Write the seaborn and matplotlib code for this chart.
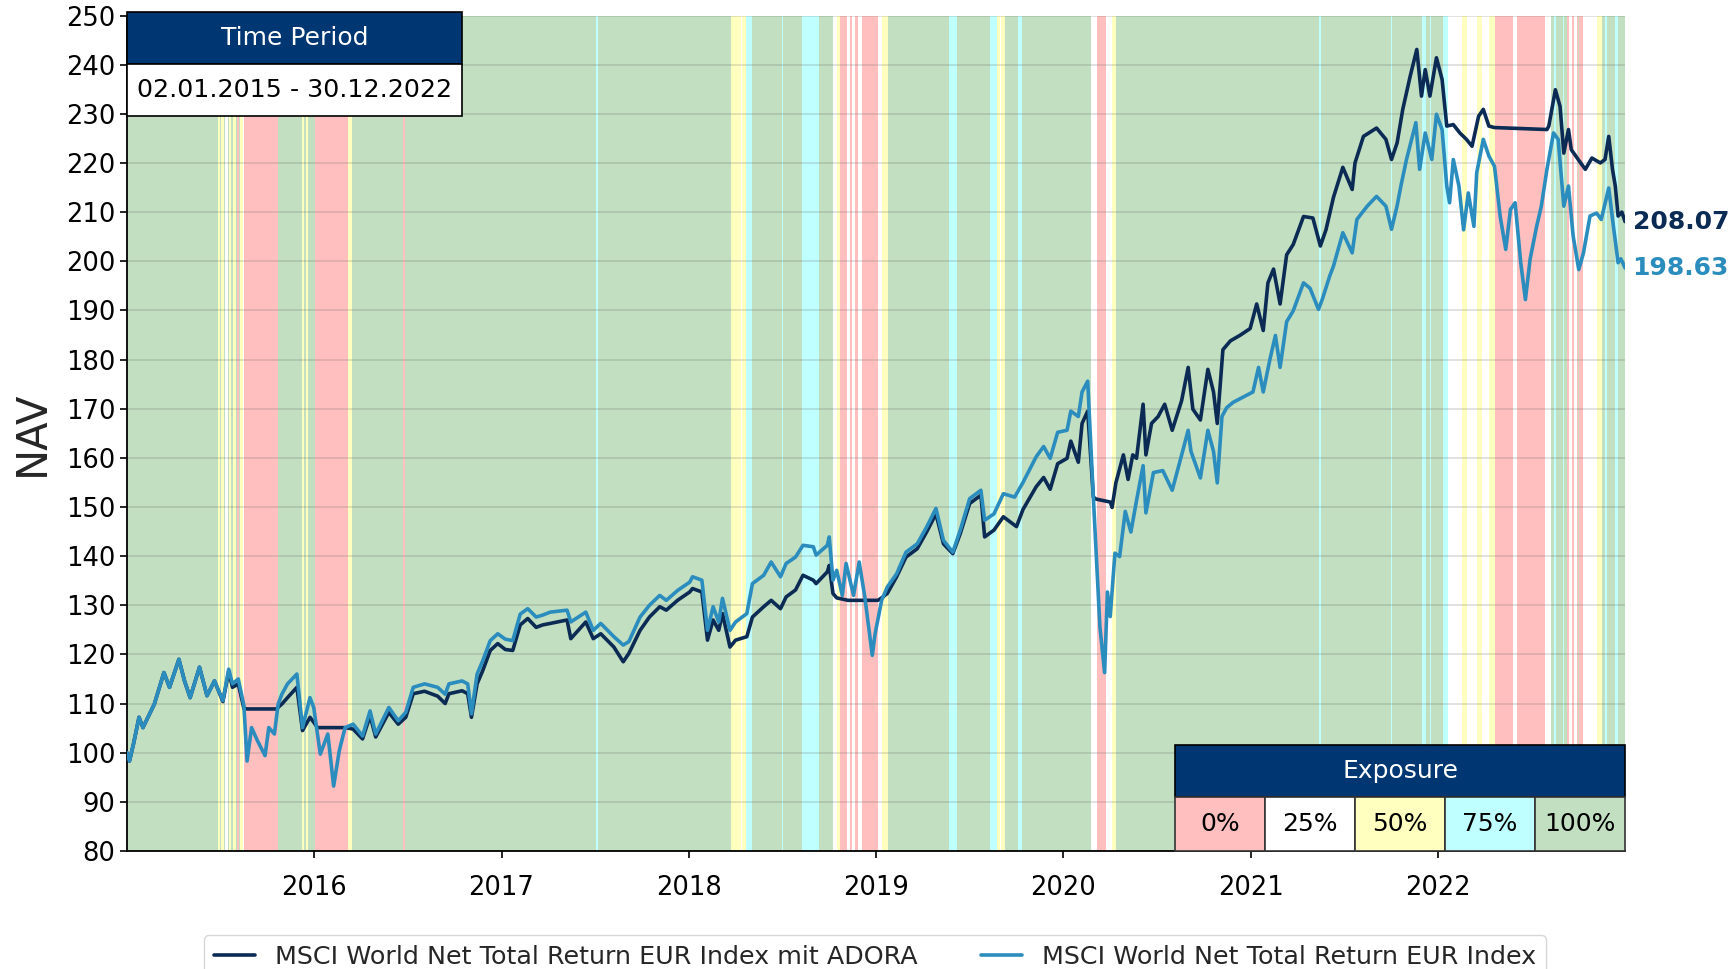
import matplotlib
matplotlib.use('Agg')

import pandas as pd
import seaborn as sns
import matplotlib.pyplot as plt
import matplotlib.dates as mdates
import matplotlib.transforms as mtransforms
from matplotlib.patches import Rectangle
from matplotlib.lines import Line2D

# dates as decimal years
msci_t = [2015.003, 2015.016, 2015.037, 2015.067, 2015.088, 2015.149, 2015.20, 2015.23, 2015.28, 2015.31,
          2015.34, 2015.39, 2015.43, 2015.47, 2015.515, 2015.546, 2015.566, 2015.597, 2015.627, 2015.644,
          2015.668, 2015.70, 2015.74, 2015.76, 2015.79, 2015.81, 2015.83, 2015.86, 2015.91, 2015.94,
          2015.98, 2016.00, 2016.035, 2016.075, 2016.106, 2016.136, 2016.167, 2016.21, 2016.26, 2016.30,
          2016.33, 2016.40, 2016.45, 2016.49, 2016.53, 2016.59, 2016.66, 2016.70, 2016.72, 2016.79,
          2016.82, 2016.84, 2016.87, 2016.90, 2016.94, 2016.98, 2017.02, 2017.06, 2017.10, 2017.14,
          2017.185, 2017.22, 2017.26, 2017.35, 2017.37, 2017.45, 2017.49, 2017.53, 2017.60, 2017.65,
          2017.68, 2017.74, 2017.79, 2017.845, 2017.88, 2017.94, 2018.005, 2018.02, 2018.07, 2018.10,
          2018.13, 2018.16, 2018.18, 2018.22, 2018.25, 2018.31, 2018.34, 2018.40, 2018.44, 2018.49,
          2018.52, 2018.57, 2018.61, 2018.665, 2018.68, 2018.74, 2018.75, 2018.77, 2018.79, 2018.82,
          2018.84, 2018.88, 2018.91, 2018.94, 2018.98, 2018.995, 2019.03, 2019.06, 2019.11, 2019.16,
          2019.22, 2019.27, 2019.32, 2019.36, 2019.41, 2019.45, 2019.50, 2019.56, 2019.58, 2019.63,
          2019.68, 2019.74, 2019.785, 2019.855, 2019.895, 2019.93, 2019.97, 2020.02, 2020.04, 2020.08,
          2020.10, 2020.13, 2020.16, 2020.18, 2020.195, 2020.22, 2020.235, 2020.25, 2020.275, 2020.30,
          2020.33, 2020.36, 2020.39, 2020.425, 2020.44, 2020.48, 2020.53, 2020.58, 2020.62, 2020.665,
          2020.68, 2020.73, 2020.77, 2020.80, 2020.82, 2020.845, 2020.87, 2020.905, 2020.96, 2021.01,
          2021.04, 2021.065, 2021.10, 2021.13, 2021.155, 2021.19, 2021.225, 2021.28, 2021.315, 2021.36,
          2021.38, 2021.42, 2021.44, 2021.49, 2021.54, 2021.565, 2021.62, 2021.67, 2021.72, 2021.75,
          2021.78, 2021.80, 2021.83, 2021.88, 2021.90, 2021.93, 2021.965, 2021.99, 2022.02, 2022.045,
          2022.06, 2022.08, 2022.11, 2022.135, 2022.16, 2022.19, 2022.205, 2022.24, 2022.27, 2022.30,
          2022.33, 2022.36, 2022.385, 2022.41, 2022.44, 2022.465, 2022.49, 2022.525, 2022.55, 2022.58,
          2022.615, 2022.64, 2022.67, 2022.695, 2022.72, 2022.75, 2022.775, 2022.81, 2022.845, 2022.87,
          2022.91, 2022.935, 2022.96, 2022.975, 2022.997]
msci_v = [100.0, 98.3, 101.7, 107.2, 105.1, 109.9, 116.3, 113.3, 119.0, 114.6,
          111.2, 117.4, 111.6, 114.6, 110.6, 117.0, 114.0, 115.0, 109.6, 98.3,
          105.1, 102.4, 99.4, 105.1, 103.8, 109.9, 111.9, 114.0, 116.0, 105.1,
          111.2, 109.2, 99.7, 103.8, 93.2, 100.4, 105.1, 105.8, 103.4, 108.5,
          103.8, 109.2, 106.5, 108.2, 113.3, 114.0, 113.3, 111.9, 114.0, 114.6,
          114.0, 107.9, 116.0, 118.7, 122.8, 124.2, 123.1, 122.8, 128.2, 129.3,
          127.6, 128.0, 128.6, 129.0, 126.6, 128.6, 124.9, 126.3, 123.6, 121.9,
          122.6, 127.6, 130.0, 132.0, 131.0, 133.0, 134.7, 135.8, 135.1, 124.9,
          129.7, 126.6, 131.4, 124.9, 126.6, 128.3, 134.4, 136.1, 138.8, 135.8,
          138.5, 139.8, 142.2, 141.9, 140.2, 142.2, 143.9, 135.1, 137.1, 132.0,
          138.5, 132.0, 138.8, 131.7, 119.8, 124.2, 131.0, 133.7, 136.4, 140.8,
          142.5, 145.9, 149.7, 143.2, 140.8, 145.3, 151.7, 153.4, 147.3, 148.6,
          152.7, 152.0, 155.0, 160.2, 162.3, 159.9, 165.2, 165.6, 169.5, 168.4,
          173.4, 175.6, 152.0, 137.0, 125.6, 116.3, 132.7, 127.7, 140.6, 139.9,
          149.1, 144.9, 151.3, 158.4, 148.8, 157.0, 157.4, 153.4, 159.1, 165.6,
          161.3, 155.9, 165.6, 161.3, 154.9, 168.4, 170.2, 171.3, 172.4, 173.4,
          178.4, 173.4, 179.9, 184.9, 178.4, 187.7, 189.9, 195.6, 194.5, 190.2,
          192.2, 197.0, 199.0, 205.8, 201.7, 208.5, 211.2, 213.2, 211.2, 206.5,
          211.3, 215.3, 220.7, 228.2, 218.7, 226.1, 220.7, 229.9, 226.8, 215.3,
          211.9, 220.7, 215.3, 206.4, 213.9, 207.1, 218.0, 224.8, 221.4, 219.3,
          209.2, 202.4, 210.5, 211.9, 199.7, 192.2, 200.4, 207.1, 211.2, 218.7,
          226.1, 224.8, 211.2, 215.3, 205.1, 198.3, 201.7, 209.2, 209.8, 208.5,
          214.9, 207.1, 199.7, 200.5, 198.63]

adora_t = [2015.003, 2015.016, 2015.037, 2015.067, 2015.088, 2015.149, 2015.20, 2015.23, 2015.28, 2015.31,
           2015.34, 2015.39, 2015.43, 2015.47, 2015.515, 2015.546, 2015.566, 2015.597, 2015.627, 2015.645,
           2015.80, 2015.83, 2015.86, 2015.91, 2015.94, 2015.98, 2016.00, 2016.02, 2016.17, 2016.21,
           2016.26, 2016.30, 2016.33, 2016.40, 2016.45, 2016.49, 2016.53, 2016.59, 2016.66, 2016.70,
           2016.72, 2016.79, 2016.82, 2016.84, 2016.87, 2016.90, 2016.94, 2016.98, 2017.02, 2017.06,
           2017.10, 2017.14, 2017.185, 2017.22, 2017.26, 2017.35, 2017.37, 2017.45, 2017.49, 2017.53,
           2017.60, 2017.65, 2017.68, 2017.74, 2017.79, 2017.845, 2017.88, 2017.94, 2018.005, 2018.02,
           2018.07, 2018.10, 2018.13, 2018.16, 2018.18, 2018.22, 2018.25, 2018.31, 2018.34, 2018.40,
           2018.44, 2018.49, 2018.52, 2018.57, 2018.61, 2018.665, 2018.68, 2018.74, 2018.75, 2018.77,
           2018.79, 2018.85, 2019.01, 2019.03, 2019.06, 2019.11, 2019.16, 2019.22, 2019.27, 2019.32,
           2019.36, 2019.41, 2019.45, 2019.50, 2019.56, 2019.58, 2019.63, 2019.68, 2019.75, 2019.785,
           2019.855, 2019.895, 2019.93, 2019.97, 2020.02, 2020.04, 2020.08, 2020.10, 2020.13, 2020.16,
           2020.175, 2020.25, 2020.26, 2020.28, 2020.32, 2020.345, 2020.37, 2020.39, 2020.425, 2020.44,
           2020.47, 2020.505, 2020.54, 2020.58, 2020.63, 2020.665, 2020.69, 2020.73, 2020.77, 2020.80,
           2020.82, 2020.85, 2020.89, 2020.94, 2020.995, 2021.03, 2021.065, 2021.09, 2021.12, 2021.155,
           2021.19, 2021.225, 2021.28, 2021.33, 2021.37, 2021.40, 2021.44, 2021.49, 2021.54, 2021.555,
           2021.60, 2021.67, 2021.72, 2021.75, 2021.78, 2021.81, 2021.85, 2021.885, 2021.91, 2021.93,
           2021.955, 2021.99, 2022.02, 2022.045, 2022.08, 2022.115, 2022.15, 2022.18, 2022.215, 2022.24,
           2022.27, 2022.30, 2022.58, 2022.59, 2022.625, 2022.65, 2022.67, 2022.695, 2022.71, 2022.76,
           2022.785, 2022.82, 2022.865, 2022.89, 2022.91, 2022.93, 2022.945, 2022.96, 2022.98, 2022.997]
adora_v = [100.0, 98.3, 101.7, 107.2, 105.1, 109.9, 116.3, 113.3, 119.0, 114.6,
           111.2, 117.4, 111.6, 114.6, 110.4, 116.5, 113.3, 114.0, 109.0, 108.9,
           108.9, 109.9, 111.2, 113.3, 104.5, 107.2, 106.2, 105.1, 105.1, 104.8,
           102.8, 107.5, 103.2, 108.2, 105.8, 107.2, 112.0, 112.5, 111.5, 110.0,
           112.0, 112.6, 112.0, 107.2, 114.0, 116.7, 120.8, 122.2, 121.0, 120.8,
           126.0, 127.3, 125.5, 126.0, 126.3, 127.0, 123.2, 126.6, 123.2, 124.2,
           121.5, 118.5, 120.2, 124.9, 127.6, 129.7, 129.0, 131.0, 132.7, 133.4,
           132.7, 122.9, 127.0, 124.9, 128.3, 121.5, 122.9, 123.6, 127.6, 129.7,
           131.0, 129.3, 131.7, 133.1, 136.1, 135.1, 134.4, 136.8, 138.1, 132.4,
           131.5, 131.0, 131.0, 131.5, 132.4, 135.8, 139.8, 141.5, 144.9, 148.6,
           142.5, 140.5, 144.6, 150.7, 152.4, 143.9, 145.3, 148.0, 146.0, 149.5,
           154.1, 156.0, 153.6, 158.8, 159.9, 163.4, 159.1, 167.0, 169.5, 152.0,
           151.6, 151.0, 149.9, 154.9, 160.6, 155.6, 160.6, 159.9, 170.9, 160.6,
           167.0, 168.4, 170.9, 165.6, 171.6, 178.4, 169.9, 167.7, 178.0, 173.4,
           167.0, 182.0, 183.8, 184.9, 186.3, 191.3, 185.9, 195.6, 198.4, 191.3,
           201.3, 203.4, 209.1, 208.8, 203.1, 206.4, 213.0, 219.1, 214.6, 220.0,
           225.4, 227.1, 224.8, 220.7, 224.1, 230.9, 237.7, 243.1, 233.6, 239.0,
           233.6, 241.4, 237.0, 227.5, 227.8, 226.1, 224.8, 223.4, 229.5, 230.9,
           227.5, 227.2, 226.8, 227.5, 234.9, 231.5, 222.0, 226.8, 222.7, 220.0,
           218.7, 221.0, 220.0, 220.7, 225.4, 218.7, 215.3, 209.2, 210.0, 208.07]

# exposure periods (start, end, exposure %), rest of the period is 100%
band_start = [2015.49, 2015.505, 2015.525, 2015.545, 2015.57, 2015.59, 2015.605, 2015.62, 2015.63,
              2015.94, 2015.96, 2016.005, 2016.18, 2016.476, 2017.507,
              2018.225, 2018.255, 2018.278, 2018.285, 2018.308, 2018.497, 2018.606,
              2018.768, 2018.79, 2018.807, 2018.843, 2018.86, 2018.87, 2018.89, 2018.905, 2018.923,
              2019.012, 2019.03, 2019.392, 2019.61, 2019.645, 2019.66, 2019.665, 2019.76,
              2020.15, 2020.18, 2020.23, 2020.26, 2021.365, 2021.745, 2021.912, 2021.953,
              2022.027, 2022.054, 2022.125, 2022.152, 2022.205, 2022.232, 2022.268, 2022.303,
              2022.401, 2022.422, 2022.57, 2022.62, 2022.665, 2022.686, 2022.70, 2022.712,
              2022.725, 2022.738, 2022.752, 2022.775, 2022.846, 2022.89, 2022.944]
band_end = [2015.50, 2015.52, 2015.54, 2015.56, 2015.585, 2015.60, 2015.62, 2015.63, 2015.81,
            2015.95, 2015.97, 2016.18, 2016.205, 2016.484, 2017.513,
            2018.255, 2018.278, 2018.285, 2018.308, 2018.335, 2018.503, 2018.697,
            2018.79, 2018.807, 2018.843, 2018.86, 2018.87, 2018.89, 2018.905, 2018.923, 2019.012,
            2019.03, 2019.066, 2019.431, 2019.645, 2019.66, 2019.665, 2019.69, 2019.78,
            2020.18, 2020.23, 2020.26, 2020.28, 2021.375, 2021.755, 2021.935, 2021.96,
            2022.054, 2022.125, 2022.152, 2022.205, 2022.232, 2022.268, 2022.303, 2022.401,
            2022.422, 2022.57, 2022.60, 2022.628, 2022.672, 2022.70, 2022.712, 2022.725,
            2022.738, 2022.748, 2022.775, 2022.846, 2022.873, 2022.90, 2022.962]
band_level = [50, 50, 25, 50, 50, 0, 50, 25, 0,
              50, 50, 0, 50, 0, 75,
              50, 50, 25, 50, 75, 75, 75,
              25, 50, 0, 25, 0, 25, 0, 25, 0,
              25, 50, 75, 75, 50, 25, 50, 75,
              25, 0, 25, 50, 75, 75, 75, 75,
              75, 25, 50, 25, 50, 25, 50, 0,
              25, 0, 25, 75, 75, 0, 25, 0,
              25, 0, 0, 25, 50, 75, 75]

exposure_labels = ['0%', '25%', '50%', '75%', '100%']
exposure_colors = {0: '#ffbfbf', 25: '#ffffff', 50: '#ffffc0', 75: '#c0ffff', 100: '#c2dfc2'}

name_adora = 'MSCI World Net Total Return EUR Index mit ADORA'
name_msci = 'MSCI World Net Total Return EUR Index'
col_adora = '#0b2b55'
col_msci = '#2b8cbe'
navy = '#003671'


def to_date(y):
    yr = int(y)
    a = pd.Timestamp(yr, 1, 1)
    b = pd.Timestamp(yr + 1, 1, 1)
    return a + (b - a) * (y - yr)


df = pd.concat([
    pd.DataFrame({'date': [to_date(t) for t in adora_t], 'nav': adora_v, 'series': name_adora}),
    pd.DataFrame({'date': [to_date(t) for t in msci_t], 'nav': msci_v, 'series': name_msci}),
], ignore_index=True)

sns.set_theme(style='ticks')
plt.rcParams['font.family'] = ['DejaVu Sans']

fig = plt.figure(figsize=(17.33, 9.69), dpi=100)
ax = fig.add_axes([0.0733, 0.1218, 0.8644, 0.8622])
ax.set_facecolor(exposure_colors[100])

for s, e, lv in zip(band_start, band_end, band_level):
    ax.axvspan(to_date(s), to_date(e), color=exposure_colors[lv], lw=0, zorder=0)

sns.lineplot(data=df, x='date', y='nav', hue='series', hue_order=[name_adora, name_msci],
             palette={name_adora: col_adora, name_msci: col_msci}, estimator=None,
             lw=2.6, ax=ax, legend=False, zorder=3)

ax.set_xlim(to_date(2015.003), to_date(2022.997))
ax.set_ylim(80, 250)
ax.set_yticks(range(80, 251, 10))
ax.xaxis.set_major_locator(mdates.YearLocator())
ax.xaxis.set_major_formatter(mdates.DateFormatter('%Y'))
ax.tick_params(axis='both', labelsize=18.5, length=5, width=1.2, colors='black')
ax.tick_params(axis='x', pad=12)
ax.yaxis.grid(True, color='#555555', alpha=0.2, lw=1.2)
ax.xaxis.grid(False)
ax.set_xlabel('')
ax.set_ylabel('NAV', fontsize=30, labelpad=9)
for side in ['top', 'right']:
    ax.spines[side].set_visible(False)
for side in ['left', 'bottom']:
    ax.spines[side].set_color('black')
    ax.spines[side].set_linewidth(1.3)

# end values
tr = mtransforms.blended_transform_factory(ax.transAxes, ax.transData)
ax.text(1.005, adora_v[-1], f'{adora_v[-1]:.2f}', transform=tr, color=col_adora,
        fontsize=18, fontweight='bold', va='center', ha='left')
ax.text(1.005, msci_v[-1], f'{msci_v[-1]:.2f}', transform=tr, color=col_msci,
        fontsize=18, fontweight='bold', va='center', ha='left')

# time period box
box_w = 0.2236
ax.add_patch(Rectangle((0, 0.942), box_w, 0.062, transform=ax.transAxes, facecolor=navy,
                       edgecolor='black', lw=1.2, clip_on=False, zorder=6))
ax.add_patch(Rectangle((0, 0.880), box_w, 0.062, transform=ax.transAxes, facecolor='white',
                       edgecolor='black', lw=1.2, clip_on=False, zorder=6))
ax.text(box_w / 2, 0.973, 'Time Period', transform=ax.transAxes, ha='center', va='center',
        color='white', fontsize=18, zorder=7)
ax.text(box_w / 2, 0.911, '02.01.2015 - 30.12.2022', transform=ax.transAxes, ha='center',
        va='center', color='black', fontsize=18.3, zorder=7)

# exposure table
tx0, cw = 0.6996, 0.06008
ax.add_patch(Rectangle((tx0, 0.0646), 1 - tx0, 0.0624, transform=ax.transAxes, facecolor=navy,
                       edgecolor='black', lw=1.2, clip_on=False, zorder=6))
ax.text(tx0 + (1 - tx0) / 2, 0.0958, 'Exposure', transform=ax.transAxes, ha='center',
        va='center', color='white', fontsize=18, zorder=7)
for i, (lab, lv) in enumerate(zip(exposure_labels, [0, 25, 50, 75, 100])):
    ax.add_patch(Rectangle((tx0 + i * cw, 0.0), cw, 0.0646, transform=ax.transAxes,
                           facecolor=exposure_colors[lv], edgecolor='#333333', lw=1.2,
                           clip_on=False, zorder=6))
    ax.text(tx0 + (i + 0.5) * cw, 0.0323, lab, transform=ax.transAxes, ha='center',
            va='center', color='black', fontsize=18, zorder=7)

handles = [Line2D([], [], color=col_adora, lw=2.6), Line2D([], [], color=col_msci, lw=2.6)]
fig.legend(handles, [name_adora, name_msci], loc='upper center', bbox_to_anchor=(0.505, 0.048),
           ncol=2, fontsize=18.3, frameon=True, edgecolor='#cccccc', handlelength=1.6,
           columnspacing=2.5, borderpad=0.4)

plt.savefig('out.png', dpi=100)
